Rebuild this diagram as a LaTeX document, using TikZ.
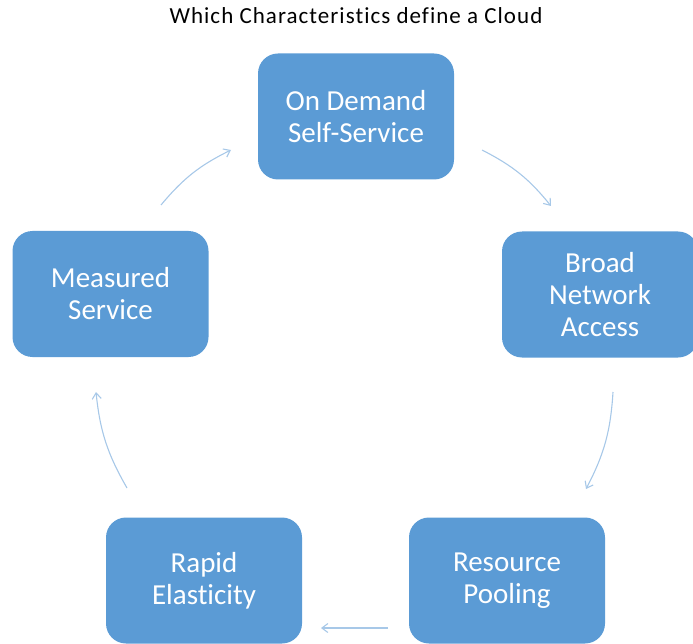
\documentclass[tikz,border=0pt]{standalone}
\usepackage{fontspec}
\setmainfont[Ligatures={NoCommon}]{Carlito}
\newfontfamily\titlefont[Ligatures={NoCommon},LetterSpace=4.5]{Carlito}
\usetikzlibrary{arrows.meta}
\definecolor{boxblue}{HTML}{5B9BD5}
\definecolor{arrblue}{HTML}{A7C8E8}
\tikzset{
  cbox/.style={rectangle, rounded corners=20pt, fill=boxblue, draw=none,
    minimum width=196pt, minimum height=126pt, text=white, align=center,
    font=\fontsize{29}{32}\selectfont},
  cyc/.style={draw=arrblue, line width=1.1pt, -{Straight Barb[length=6pt,width=9pt]}, bend left=12}
}
\begin{document}
\begin{tikzpicture}[x=1pt,y=-1pt]
\useasboundingbox (0,0) rectangle (693,644);
\begin{scope}
\clip (0,0) rectangle (693,644);
\node[font=\titlefont\fontsize{23}{26}\selectfont] (title) at (356,16) {Which Characteristics define a Cloud};
\node[cbox] (od) at (356,116.5) {On Demand\\Self-Service};
\node[cbox] (bna) at (600,294.5) {Broad\\Network\\Access};
\node[cbox] (rp) at (507,580.5) {Resource\\Pooling};
\node[cbox] (re) at (204,580.5) {Rapid\\Elasticity};
\node[cbox] (ms) at (110.5,294) {Measured\\Service};
\end{scope}
\coordinate (a1) at (482,150); \coordinate (b1) at (551,206);
\coordinate (a2) at (613,392); \coordinate (b2) at (586,489);
\coordinate (a3) at (388,628); \coordinate (b3) at (321,628);
\coordinate (a4) at (127,488); \coordinate (b4) at (96,392);
\coordinate (a5) at (161,205); \coordinate (b5) at (231,150);
\draw[cyc] (a1) to (b1);
\draw[cyc] (a2) to (b2);
\draw[draw=arrblue, line width=1.1pt, -{Straight Barb[length=6pt,width=9pt]}] (a3) -- (b3);
\draw[cyc] (a4) to (b4);
\draw[cyc] (a5) to (b5);
\end{tikzpicture}
\end{document}
